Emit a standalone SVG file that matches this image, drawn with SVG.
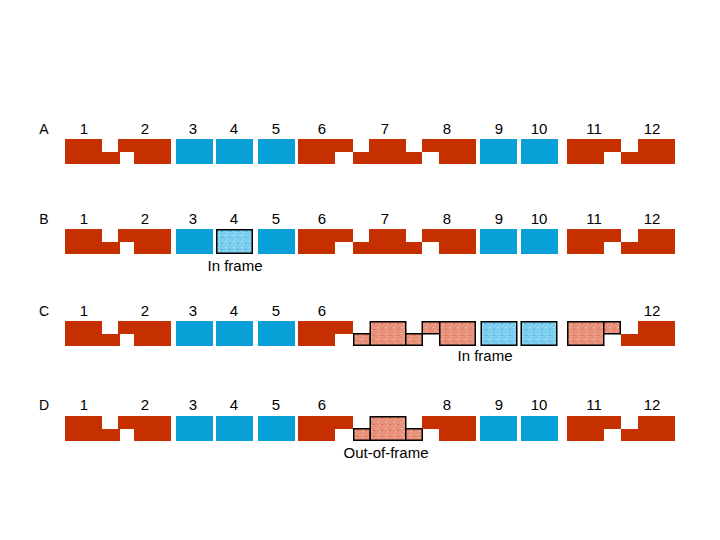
<svg xmlns="http://www.w3.org/2000/svg" width="720" height="540" viewBox="0 0 720 540">
<style>
text{font-family:"Liberation Sans",Arial,sans-serif;fill:#000}
.n{font-size:15px;text-anchor:middle}
.l{font-size:14px;text-anchor:middle}
.c{font-size:15px;text-anchor:middle}
.r{fill:#c62f00}
.b{fill:#08a0d6}
.p{fill:url(#pk);stroke:#000;stroke-width:1.5}
.q{fill:url(#lb);stroke:#000;stroke-width:1.5}
</style>
<defs>
<pattern id="pk" width="8" height="6" patternUnits="userSpaceOnUse">
<rect width="8" height="6" fill="#e8927c"/>
<rect x="1" y="1" width="2" height="1" fill="#f3b4a0"/>
<rect x="5" y="3" width="2" height="1" fill="#d9705a"/>
<rect x="3" y="4" width="1" height="1" fill="#f5c0ae"/>
</pattern>
<pattern id="lb" width="8" height="6" patternUnits="userSpaceOnUse">
<rect width="8" height="6" fill="#7ccdee"/>
<rect x="1" y="1" width="2" height="1" fill="#a8e0f6"/>
<rect x="5" y="3" width="2" height="1" fill="#3fb3e2"/>
<rect x="3" y="4" width="1" height="1" fill="#b4e6f8"/>
</pattern>
<g id="e1"><path class="r" d="M65,139H102V152H120V164H65Z"/></g>
<g id="e2"><path class="r" d="M118,139H171V164H134V152H118Z"/></g>
<g id="e3"><rect class="b" x="176" y="139" width="37" height="25"/></g>
<g id="e4"><rect class="b" x="216" y="139" width="37" height="25"/></g>
<g id="e5"><rect class="b" x="258" y="139" width="37" height="25"/></g>
<g id="e6"><path class="r" d="M298,139H353V152H335V164H298Z"/></g>
<g id="e7"><path class="r" d="M353,152H369V139H406V152H422V164H353Z"/></g>
<g id="e8"><path class="r" d="M422,139H476V164H439V152H422Z"/></g>
<g id="e9"><rect class="b" x="480" y="139" width="37" height="25"/></g>
<g id="e10"><rect class="b" x="521" y="139" width="37" height="25"/></g>
<g id="e11"><path class="r" d="M567,139H621V152H604V164H567Z"/></g>
<g id="e12"><path class="r" d="M638,139H675V164H621V152H638Z"/></g>
</defs>

<g id="rowA">
<text class="l" x="44" y="134">A</text>
<text class="n" x="84" y="134">1</text><text class="n" x="145" y="134">2</text><text class="n" x="193" y="134">3</text><text class="n" x="234" y="134">4</text><text class="n" x="276" y="134">5</text><text class="n" x="322" y="134">6</text><text class="n" x="385" y="134">7</text><text class="n" x="447" y="134">8</text><text class="n" x="499" y="134">9</text><text class="n" x="539" y="134">10</text><text class="n" x="594" y="134">11</text><text class="n" x="652" y="134">12</text>
<use href="#e1"/><use href="#e2"/><use href="#e3"/><use href="#e4"/><use href="#e5"/><use href="#e6"/><use href="#e7"/><use href="#e8"/><use href="#e9"/><use href="#e10"/><use href="#e11"/><use href="#e12"/>
</g>

<g id="rowB" transform="translate(0,90)">
<text class="l" x="44" y="134">B</text>
<text class="n" x="84" y="134">1</text><text class="n" x="145" y="134">2</text><text class="n" x="193" y="134">3</text><text class="n" x="234" y="134">4</text><text class="n" x="276" y="134">5</text><text class="n" x="322" y="134">6</text><text class="n" x="385" y="134">7</text><text class="n" x="447" y="134">8</text><text class="n" x="499" y="134">9</text><text class="n" x="539" y="134">10</text><text class="n" x="594" y="134">11</text><text class="n" x="652" y="134">12</text>
<use href="#e1"/><use href="#e2"/><use href="#e3"/>
<g id="b4"><rect class="q" x="216.75" y="139.75" width="35.5" height="23.5"/></g>
<use href="#e5"/><use href="#e6"/><use href="#e7"/><use href="#e8"/><use href="#e9"/><use href="#e10"/><use href="#e11"/><use href="#e12"/>
<text class="c" x="235" y="181">In frame</text>
</g>

<g id="rowC" transform="translate(0,182)">
<text class="l" x="44" y="134">C</text>
<text class="n" x="84" y="134">1</text><text class="n" x="145" y="134">2</text><text class="n" x="193" y="134">3</text><text class="n" x="234" y="134">4</text><text class="n" x="276" y="134">5</text><text class="n" x="322" y="134">6</text><text class="n" x="652" y="134">12</text>
<use href="#e1"/><use href="#e2"/><use href="#e3"/><use href="#e4"/><use href="#e5"/><use href="#e6"/>
<g id="c7">
<rect class="p" x="353.75" y="151.75" width="16.5" height="11.5"/>
<rect class="p" x="370.25" y="139.75" width="35.5" height="23.5"/>
<rect class="p" x="405.75" y="151.75" width="16.5" height="11.5"/>
</g>
<g id="c8">
<rect class="p" x="422.25" y="139.75" width="17.5" height="12"/>
<rect class="p" x="439.75" y="139.75" width="35.5" height="23.5"/>
</g>
<g id="c9"><rect class="q" x="481.25" y="139.75" width="35.5" height="23.5"/></g>
<g id="c10"><rect class="q" x="521.25" y="139.75" width="35.5" height="23.5"/></g>
<g id="c11">
<rect class="p" x="567.75" y="139.75" width="36" height="23.5"/>
<rect class="p" x="603.75" y="139.75" width="16.5" height="12"/>
</g>
<use href="#e12"/>
<text class="c" x="485" y="179">In frame</text>
</g>

<g id="rowD" transform="translate(0,277)">
<text class="l" x="44" y="133">D</text>
<text class="n" x="84" y="133">1</text><text class="n" x="145" y="133">2</text><text class="n" x="193" y="133">3</text><text class="n" x="234" y="133">4</text><text class="n" x="276" y="133">5</text><text class="n" x="322" y="133">6</text><text class="n" x="447" y="133">8</text><text class="n" x="499" y="133">9</text><text class="n" x="539" y="133">10</text><text class="n" x="594" y="133">11</text><text class="n" x="652" y="133">12</text>
<use href="#e1"/><use href="#e2"/><use href="#e3"/><use href="#e4"/><use href="#e5"/><use href="#e6"/>
<g id="d7">
<rect class="p" x="353.75" y="151.75" width="16.5" height="11.5"/>
<rect class="p" x="370.25" y="139.75" width="35.5" height="23.5"/>
<rect class="p" x="405.75" y="151.75" width="16.5" height="11.5"/>
</g>
<use href="#e8"/><use href="#e9"/><use href="#e10"/><use href="#e11"/><use href="#e12"/>
<text class="c" x="386" y="181">Out-of-frame</text>
</g>
<g id="connectors"/>
</svg>
